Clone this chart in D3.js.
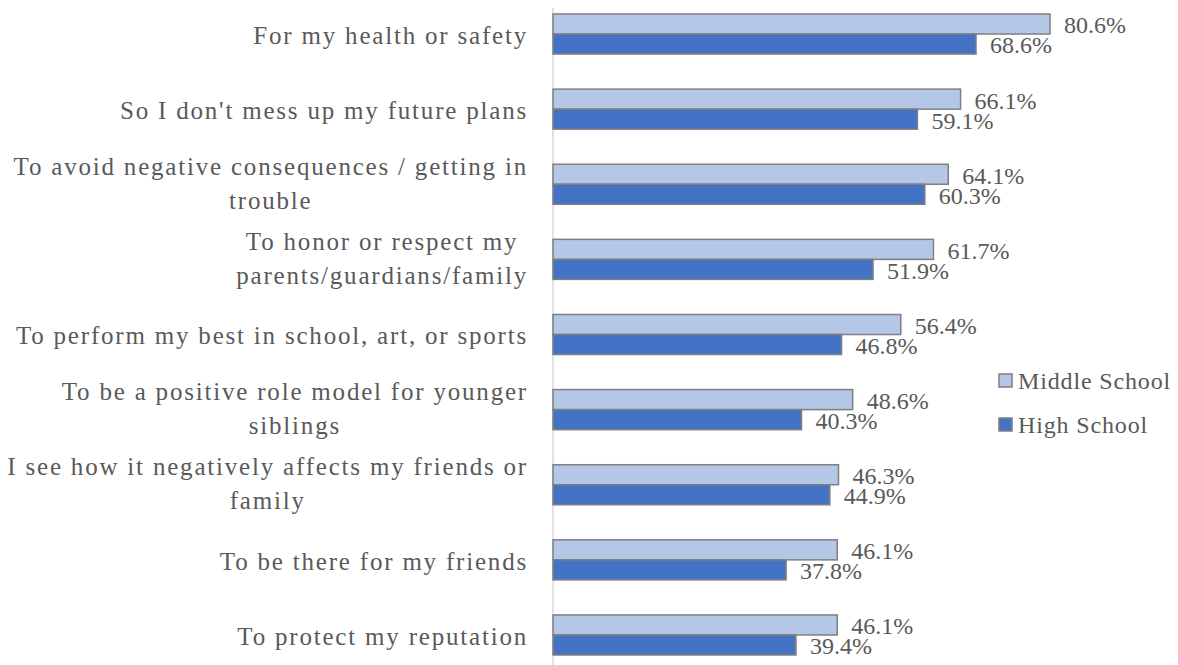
<!DOCTYPE html>
<html>
<head>
<meta charset="utf-8">
<script src="https://cdn.jsdelivr.net/npm/d3@7"></script>
<style>
  html, body { margin: 0; padding: 0; background: #fff; }
  svg { display: block; }
  text { font-family: "Liberation Serif", "DejaVu Serif", serif; fill: #595959; }
</style>
</head>
<body>
<svg id="chart" width="1178" height="665"></svg>
<script>
// Reasons given, top to bottom
const categories = [
  ["For my health or safety"],
  ["So I don't mess up my future plans"],
  ["To avoid negative consequences / getting in", "trouble"],
  ["To honor or respect my", "parents/guardians/family"],
  ["To perform my best in school, art, or sports"],
  ["To be a positive role model for younger", "siblings"],
  ["I see how it negatively affects my friends or", "family"],
  ["To be there for my friends"],
  ["To protect my reputation"]
];
const seriesNames = ["Middle School", "High School"];
const middleSchool = [80.6, 66.1, 64.1, 61.7, 56.4, 48.6, 46.3, 46.1, 46.1];
const highSchool   = [68.6, 59.1, 60.3, 51.9, 46.8, 40.3, 44.9, 37.8, 39.4];
const seriesColors = ["#b4c7e7", "#4472c4"];

const svg = d3.select("#chart");
const fontSize = 24;

const x = d3.scaleLinear().domain([0, 90]).range([553, 553 + 90 * 6.166]);
const y = d3.scaleBand()
  .domain(d3.range(categories.length))
  .range([-3.5, 672.5])
  .paddingInner(0.467)
  .paddingOuter(0.233);
const ySub = d3.scaleBand().domain([0, 1]).range([0, y.bandwidth()]);

// vertical category axis line
svg.append("line")
  .attr("x1", x(0)).attr("x2", x(0))
  .attr("y1", 8).attr("y2", 665)
  .attr("stroke", "#d9d9d9").attr("stroke-width", 1.5);

const series = [middleSchool, highSchool];
series.forEach((vals, si) => {
  const g = svg.append("g");
  g.selectAll("rect").data(vals).join("rect")
    .attr("x", x(0))
    .attr("y", (d, i) => y(i) + ySub(si))
    .attr("width", d => x(d) - x(0))
    .attr("height", ySub.bandwidth())
    .attr("fill", seriesColors[si])
    .attr("stroke", "#7f7f7f")
    .attr("stroke-width", 1.5);
  g.selectAll("text").data(vals).join("text")
    .attr("x", d => x(d) + 14)
    .attr("y", (d, i) => y(i) + ySub(si) + ySub.bandwidth() / 2 + 1)
    .attr("dy", "0.35em")
    .attr("font-size", fontSize)
    .text(d => d.toFixed(1) + "%");
});

// category labels, right aligned and centred on each group
const lineGap = 34;
categories.forEach((lines, i) => {
  const cy = y(i) + y.bandwidth() / 2 + (lines.length > 1 ? -1 : 1);
  const t = svg.append("text")
    .attr("text-anchor", "middle")
    .attr("font-size", 25)
    .attr("letter-spacing", 1.8);
  lines.forEach((ln, k) => {
    t.append("tspan")
      .attr("y", cy + (k - (lines.length - 1) / 2) * lineGap)
      .attr("dy", "0.35em")
      .text(ln);
  });
  // centre lines within the block whose right edge sits at x=527
  const widths = [];
  t.selectAll("tspan").each(function() { widths.push(this.getComputedTextLength()); });
  const maxW = d3.max(widths);
  t.selectAll("tspan").attr("x", 528 - maxW / 2);
});

// legend
const legend = svg.append("g");
seriesNames.forEach((name, i) => {
  const ly = 381 + i * 44;
  legend.append("rect")
    .attr("x", 999).attr("y", ly - 7)
    .attr("width", 13).attr("height", 13)
    .attr("fill", seriesColors[i])
    .attr("stroke", "#7f7f7f").attr("stroke-width", 1.5);
  legend.append("text")
    .attr("x", 1018).attr("y", ly)
    .attr("dy", "0.35em")
    .attr("font-size", fontSize)
    .attr("letter-spacing", 0.85)
    .text(name);
});
</script>
</body>
</html>
